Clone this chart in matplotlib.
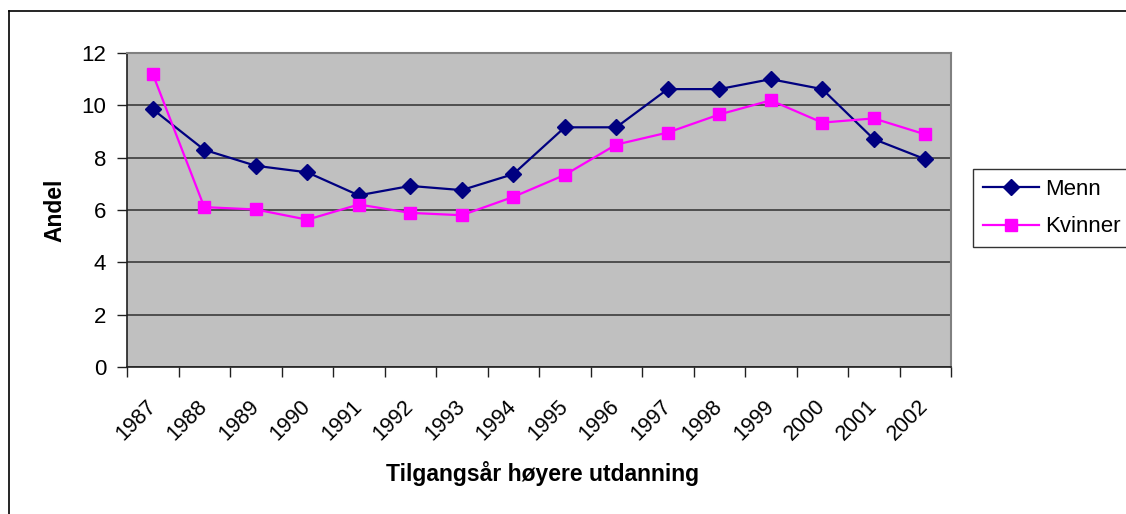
import numpy as np
import matplotlib.pyplot as plt
from matplotlib.lines import Line2D

plt.rcParams['font.family'] = ['Liberation Sans', 'DejaVu Sans']

years = ['1987', '1988', '1989', '1990', '1991', '1992', '1993', '1994',
         '1995', '1996', '1997', '1998', '1999', '2000', '2001', '2002']
menn = [9.85, 8.30, 7.69, 7.44, 6.56, 6.92, 6.76, 7.37,
        9.16, 9.16, 10.62, 10.62, 11.0, 10.62, 8.71, 7.94]
kvinner = [11.2, 6.11, 6.02, 5.63, 6.21, 5.89, 5.80, 6.50,
           7.34, 8.50, 8.96, 9.65, 10.19, 9.34, 9.50, 8.89]

fig = plt.figure(figsize=[11.26, 5.14], dpi=100)
ax = fig.add_axes([127 / 1126, 1 - 367 / 514, 824 / 1126, 314 / 514])
ax.set_facecolor('#C0C0C0')

x = np.arange(len(years))
ax.plot(x, menn, color='#000080', marker='D', markersize=8, linewidth=1.6,
        label='Menn')
ax.plot(x, kvinner, color='#FF00FF', marker='s', markersize=8, linewidth=1.6,
        label='Kvinner')

ax.set_xlim(-0.5, len(years) - 0.5)
ax.set_ylim(0, 12)
ax.set_yticks(range(0, 13, 2))
ax.yaxis.grid(True, color='#303030', linewidth=1.1)
ax.set_axisbelow(True)

# category boundaries as major ticks, labels on minor ticks at centers
ax.set_xticks(np.arange(-0.5, len(years), 1.0))
ax.set_xticklabels([])
ax.set_xticks(x, minor=True)
ax.set_xticklabels(years, minor=True, rotation=45, ha='right',
                   va='center', rotation_mode='anchor', fontsize=15.5)
ax.tick_params(axis='x', which='major', length=7, width=1, color='#202020')
ax.tick_params(axis='x', which='minor', length=0, pad=26)
ax.tick_params(axis='y', length=7, width=1, color='#202020', labelsize=16, pad=8)

for side in ['top', 'right']:
    ax.spines[side].set_color('#808080')
    ax.spines[side].set_linewidth(1.5)
for side in ['left', 'bottom']:
    ax.spines[side].set_color('#202020')
    ax.spines[side].set_linewidth(1.2)

ax.set_ylabel('Andel', fontsize=16.5, fontweight='bold', labelpad=11)
fig.text(543 / 1126, 1 - 474 / 514, 'Tilgangsår høyere utdanning',
         fontsize=16.5, fontweight='bold', ha='center', va='center')

leg = fig.legend(loc='center left', bbox_to_anchor=(973 / 1126, 1 - 208 / 514),
                 fontsize=16, frameon=True, fancybox=False, edgecolor='black',
                 handlelength=2.5, borderpad=0.45, labelspacing=0.75,
                 handletextpad=0.3, borderaxespad=0)
leg.get_frame().set_linewidth(1.0)

# outer chart border
fig.add_artist(Line2D([9 / 1126, 9 / 1126], [0, 1 - 11 / 514],
                      transform=fig.transFigure, color='black', linewidth=1.2))
fig.add_artist(Line2D([9 / 1126, 1], [1 - 11 / 514, 1 - 11 / 514],
                      transform=fig.transFigure, color='black', linewidth=1.2))

fig.savefig('out.png', dpi=100)
